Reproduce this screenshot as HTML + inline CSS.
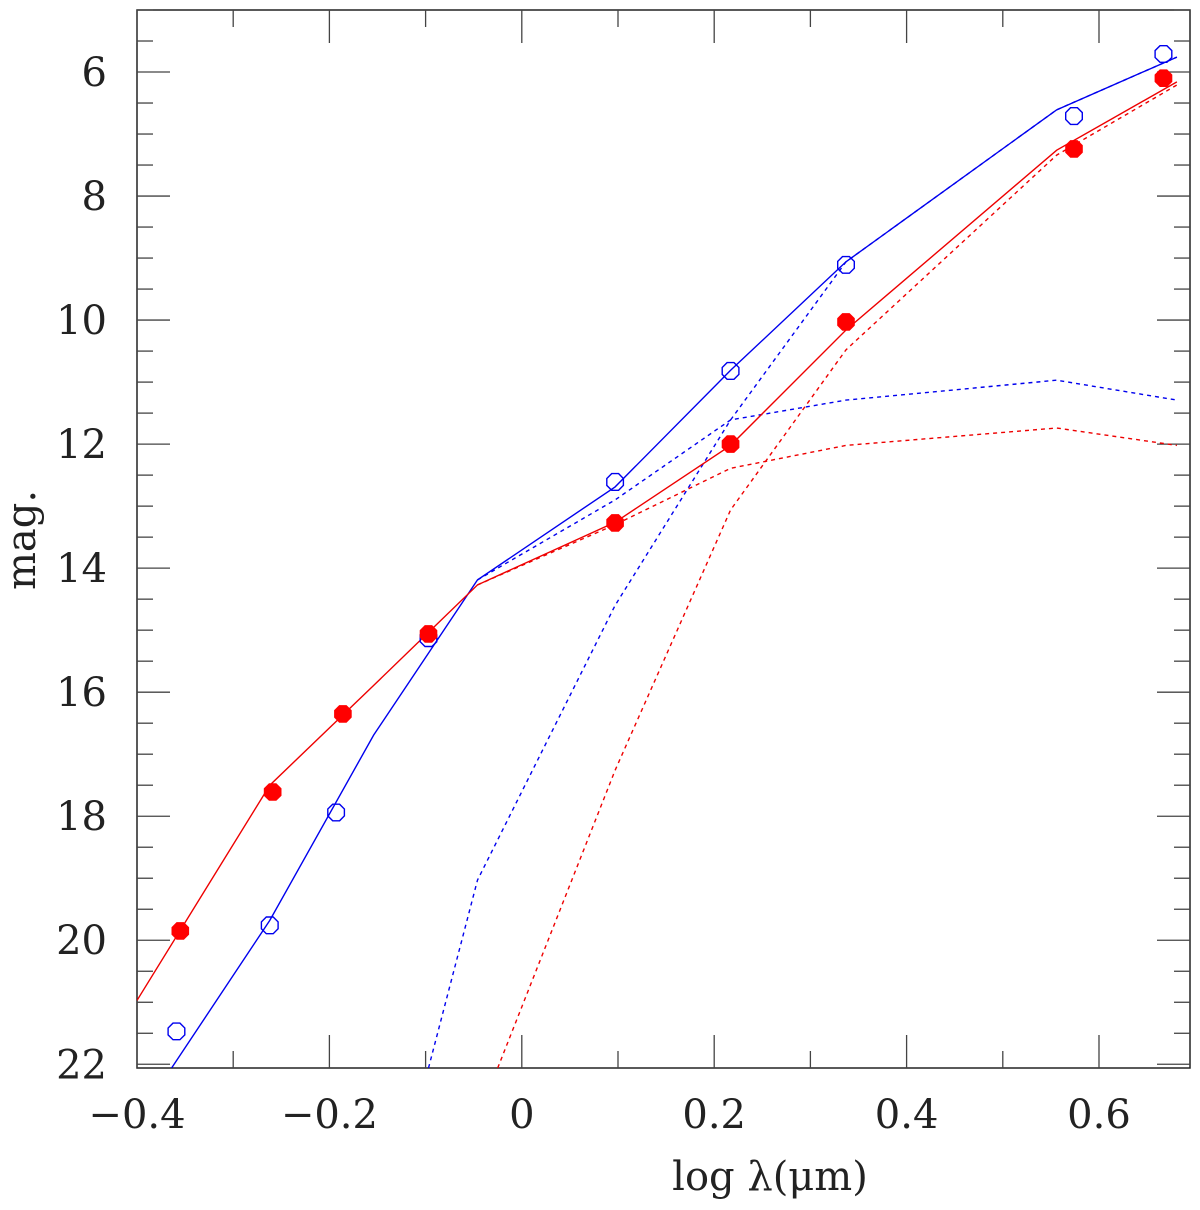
<!DOCTYPE html>
<html><head><meta charset="utf-8"><style>
body{margin:0;background:#fff}
svg text{font-family:"DejaVu Serif","Liberation Serif",serif;fill:#222}
</style></head><body>
<svg id="chart" width="1200" height="1205" xmlns="http://www.w3.org/2000/svg">
<g id="axes"></g>
<g id="series"></g>
<text x="770" y="1190" font-size="40" text-anchor="middle">log λ(μm)</text>
<text transform="translate(35,540) rotate(-90)" font-size="40" text-anchor="middle">mag.</text>
</svg>
<script>
const xTicks=[-0.4,-0.2,0,0.2,0.4,0.6];
const xTickLabels=["−0.4","−0.2","0","0.2","0.4","0.6"];
const yTicks=[6,8,10,12,14,16,18,20,22];
const yTickLabels=["6","8","10","12","14","16","18","20","22"];
const blueObsX=[-0.359,-0.262,-0.193,-0.097,0.097,0.217,0.337,0.574,0.667];
const blueObsY=[21.47,19.76,17.94,15.13,12.61,10.82,9.11,6.71,5.71];
const redObsX=[-0.355,-0.259,-0.186,-0.097,0.097,0.217,0.337,0.574,0.667];
const redObsY=[19.85,17.61,16.35,15.06,13.27,12.0,10.03,7.24,6.10];
const blueTotX=[-0.364,-0.262,-0.154,-0.046,0.097,0.217,0.337,0.556,0.681];
const blueTotY=[22.06,19.68,16.69,14.19,12.69,10.81,9.06,6.61,5.76];
const redTotX=[-0.4,-0.262,-0.154,-0.046,0.097,0.217,0.337,0.556,0.681];
const redTotY=[20.97,17.5,15.89,14.27,13.26,12.02,10.16,7.26,6.16];
const blueC1X=[-0.046,0.097,0.217,0.337,0.556,0.681];
const blueC1Y=[14.19,12.90,11.61,11.29,10.97,11.29];
const blueC2X=[-0.097,-0.046,0.097,0.217,0.337,0.556,0.681];
const blueC2Y=[22.06,19.03,14.6,11.61,9.06,6.61,5.76];
const redC1X=[-0.046,0.097,0.217,0.337,0.556,0.681];
const redC1Y=[14.27,13.3,12.39,12.02,11.74,12.02];
const redC2X=[-0.025,0.097,0.217,0.337,0.556,0.681];
const redC2Y=[22.06,17.26,13.06,10.48,7.34,6.21];

const L=137,R=1190,T=10,B=1068,XMIN=-0.4,XMAX=0.6946,YMIN=5,YMAX=22.06;
const sx=v=>L+(v-XMIN)/(XMAX-XMIN)*(R-L);
const sy=v=>T+(v-YMIN)/(YMAX-YMIN)*(B-T);
const NS="http://www.w3.org/2000/svg";
const ax=document.getElementById('axes'),se=document.getElementById('series');
function mk(p,tag,at){const e=document.createElementNS(NS,tag);for(const k in at)e.setAttribute(k,at[k]);p.appendChild(e);return e;}
let fr=mk(ax,'rect',{x:L,y:T,width:R-L,height:B-T,fill:'none',stroke:'#222','stroke-width':1.5});


for(let i=-4;i<=6;i++){const v=i/10,x=sx(v),len=(i%2===0)?33:17;
 let t1=mk(ax,'line',{x1:x,x2:x,y1:B,y2:B-len,stroke:'#444','stroke-width':1.3});
 
 
 let t2=mk(ax,'line',{x1:x,x2:x,y1:T,y2:T+len,stroke:'#444','stroke-width':1.3});
 
 }
for(let i=10;i<=44;i++){const v=i/2,y=sy(v),len=(i%4===0)?33:16;
 let t1=mk(ax,'line',{x1:L,x2:L+len,y1:y,y2:y,stroke:'#444','stroke-width':1.3});
 
 
 let t2=mk(ax,'line',{x1:R,x2:R-len,y1:y,y2:y,stroke:'#444','stroke-width':1.3});
 
 }
xTicks.forEach((v,i)=>{let t=mk(ax,'text',{x:sx(v),y:1128,'font-size':40,'text-anchor':'middle'});t.textContent=xTickLabels[i];
 
 });
yTicks.forEach((v,i)=>{let t=mk(ax,'text',{x:107,y:sy(v)+14,'font-size':40,'text-anchor':'end'});t.textContent=yTickLabels[i];
 
 });
function line(X,Y,c,dash,name){const d=X.map((x,i)=>(i?'L':'M')+sx(x).toFixed(1)+','+sy(Y[i]).toFixed(1)).join('');
 const p=mk(se,'path',{d:d,fill:'none',stroke:c,'stroke-width':1.4,'stroke-dasharray':dash||'none'});
 
 }
function oct(cx,cy,r){let s='';for(let k=0;k<8;k++){const a=Math.PI/8+k*Math.PI/4;s+=(cx+r*Math.cos(a)).toFixed(1)+','+(cy+r*Math.sin(a)).toFixed(1)+' ';}return s;}
const clip=mk(se,'clipPath',{id:'cp'});mk(clip,'rect',{x:L,y:T,width:R-L,height:B-T});
se.setAttribute('clip-path','url(#cp)');
line(blueC1X,blueC1Y,'#0000ee','4,4','blue-component-1');
line(blueC2X,blueC2Y,'#0000ee','4,4','blue-component-2');
line(redC1X,redC1Y,'#ee0000','4,4','red-component-1');
line(redC2X,redC2Y,'#ee0000','4,4','red-component-2');
line(blueTotX,blueTotY,'#0000ee','','blue-model-line');
line(redTotX,redTotY,'#ee0000','','red-model-line');
blueObsX.forEach((x,i)=>{const p=mk(se,'polygon',{points:oct(sx(x),sy(blueObsY[i]),9),fill:'none',stroke:'#0000ee','stroke-width':1.4});
 
 });
redObsX.forEach((x,i)=>{const p=mk(se,'polygon',{points:oct(sx(x),sy(redObsY[i]),9),fill:'#ff0000',stroke:'#ff0000','stroke-width':1});
 
 });
</script>
</body></html>
